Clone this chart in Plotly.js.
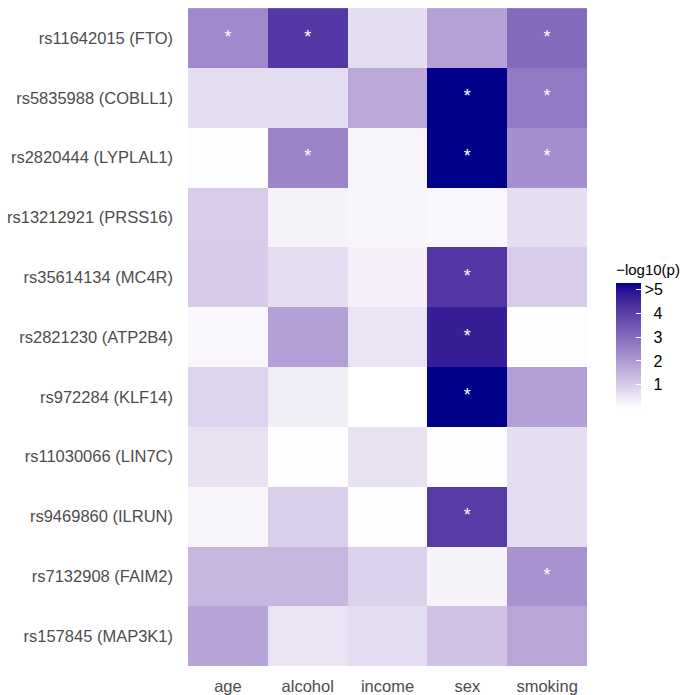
<!DOCTYPE html>
<html>
<head>
<meta charset="utf-8">
<script src="https://cdn.plot.ly/plotly-3.0.1.min.js"></script>
<style>html,body{margin:0;padding:0;background:#fff;}#chart{width:685px;height:695px;}</style>
</head>
<body>
<div id="chart"></div>
<script>
// ---- data ----
const variables = ["age", "alcohol", "income", "sex", "smoking"];
const snps = ["rs11642015 (FTO)", "rs5835988 (COBLL1)", "rs2820444 (LYPLAL1)", "rs13212921 (PRSS16)",
  "rs35614134 (MC4R)", "rs2821230 (ATP2B4)", "rs972284 (KLF14)", "rs11030066 (LIN7C)",
  "rs9469860 (ILRUN)", "rs7132908 (FAIM2)", "rs157845 (MAP3K1)"];
// -log10(p), capped at the top of the scale
const negLogP = [
  [2.4, 4.2, 0.65, 1.9, 3.1],
  [0.7, 0.7, 1.75, 5.3, 2.75],
  [0.05, 2.5, 0.2, 5.3, 2.3],
  [1.0, 0.25, 0.2, 0.15, 0.65],
  [1.05, 0.7, 0.3, 4.2, 1.0],
  [0.15, 1.95, 0.55, 4.75, 0.05],
  [0.85, 0.35, 0.0, 5.3, 1.95],
  [0.6, 0.05, 0.6, 0.05, 0.65],
  [0.2, 0.95, 0.05, 4.1, 0.7],
  [1.45, 1.45, 0.9, 0.25, 2.2],
  [1.85, 0.55, 0.7, 1.2, 1.8]
];
const significant = [
  [1, 1, 0, 0, 1],
  [0, 0, 0, 1, 1],
  [0, 1, 0, 1, 1],
  [0, 0, 0, 0, 0],
  [0, 0, 0, 1, 0],
  [0, 0, 0, 1, 0],
  [0, 0, 0, 1, 0],
  [0, 0, 0, 0, 0],
  [0, 0, 0, 1, 0],
  [0, 0, 0, 0, 1],
  [0, 0, 0, 0, 0]
];
const tickVals = [1, 2, 3, 4, 5];
const tickText = ["\u20071", "\u20072", "\u20073", "\u20074", ">5"];

// ---- colour scale: white -> darkblue interpolated in CIE Lab ----
function srgbToLin(c){c/=255;return c<=0.04045?c/12.92:Math.pow((c+0.055)/1.055,2.4);}
function linToSrgb(c){c=Math.max(0,Math.min(1,c));return Math.round(255*(c<=0.0031308?12.92*c:1.055*Math.pow(c,1/2.4)-0.055));}
function rgbToLab(r,g,b){
  const R=srgbToLin(r),G=srgbToLin(g),B=srgbToLin(b);
  let X=(0.4124*R+0.3576*G+0.1805*B)/0.95047, Y=(0.2126*R+0.7152*G+0.0722*B), Z=(0.0193*R+0.1192*G+0.9505*B)/1.08883;
  const f=t=>t>0.008856?Math.cbrt(t):(7.787*t+16/116);
  const fx=f(X),fy=f(Y),fz=f(Z);
  return [116*fy-16,500*(fx-fy),200*(fy-fz)];
}
function labToRgb(L,a,b){
  const fy=(L+16)/116,fx=fy+a/500,fz=fy-b/200;
  const inv=t=>t*t*t>0.008856?t*t*t:(t-16/116)/7.787;
  const X=0.95047*inv(fx),Y=inv(fy),Z=1.08883*inv(fz);
  const R=3.2406*X-1.5372*Y-0.4986*Z,G=-0.9689*X+1.8758*Y+0.0415*Z,B=0.0557*X-0.2040*Y+1.0570*Z;
  return 'rgb('+linToSrgb(R)+','+linToSrgb(G)+','+linToSrgb(B)+')';
}
const lo=rgbToLab(255,255,255), hi=rgbToLab(0,0,139);
const colorscale=[];
for(let i=0;i<=20;i++){const t=i/20;colorscale.push([t,labToRgb(lo[0]+(hi[0]-lo[0])*t,lo[1]+(hi[1]-lo[1])*t,lo[2]+(hi[2]-lo[2])*t)]);}

// ---- star markers ----
const starX=[],starY=[];
snps.forEach((s,i)=>variables.forEach((v,j)=>{if(significant[i][j]){starX.push(v);starY.push(s);}}));

const FONT='Liberation Sans, Arial, sans-serif';
const heat={
  type:'heatmap', x:variables, y:snps, z:negLogP,
  zmin:0, zmax:5.3, colorscale:colorscale, hoverongaps:false,
  colorbar:{
    title:{text:'\u2212log10(p)', side:'top', font:{family:FONT, size:15, color:'#000'}},
    tickvals:tickVals, ticktext:tickText, ticks:'inside', ticklen:5, tickcolor:'#fff', tickwidth:1,
    tickfont:{family:FONT, size:16, color:'#000'},
    thickness:25, len:148, lenmode:'pixels', x:1.073, xanchor:'left', xpad:0,
    y:0.5015, yanchor:'middle', ypad:0, outlinewidth:0
  }
};
const stars={
  type:'scatter', mode:'text', x:starX, y:starY, text:starX.map(()=>'*'),
  textposition:'middle center', textfont:{family:FONT, size:18, color:'#fff'},
  hoverinfo:'skip', showlegend:false
};
const layout={
  width:685, height:695, margin:{l:188, r:98, t:5, b:29, autoexpand:false},
  paper_bgcolor:'#fff', plot_bgcolor:'#fff', showlegend:false,
  font:{family:FONT, size:14, color:'#4d4d4d'},
  xaxis:{type:'category', categoryarray:variables, showgrid:false, zeroline:false, ticks:'', showline:false,
    tickfont:{size:16.5, color:'#4d4d4d'}, ticklabelstandoff:8, automargin:false},
  yaxis:{type:'category', categoryarray:snps, autorange:'reversed', showgrid:false, zeroline:false, ticks:'', showline:false,
    tickfont:{size:16.5, color:'#4d4d4d'}, ticklabelstandoff:14, automargin:false}
};
Plotly.newPlot('chart',[heat,stars],layout,{displayModeBar:false, staticPlot:true});
</script>
</body>
</html>
